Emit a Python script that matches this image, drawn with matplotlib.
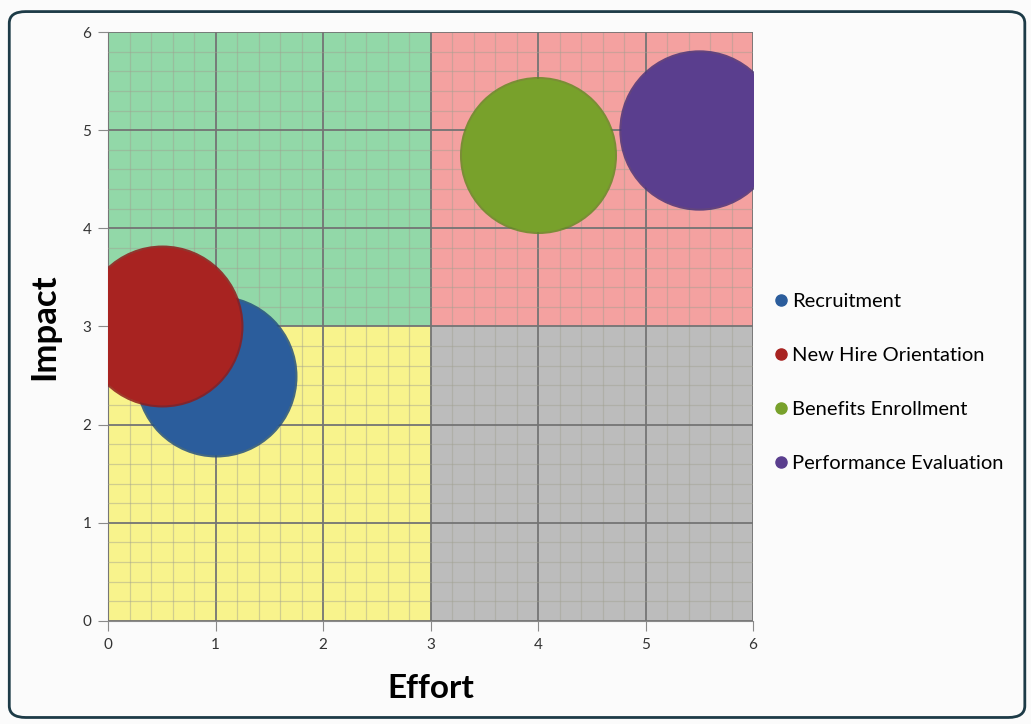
import matplotlib.pyplot as plt
from matplotlib.patches import Rectangle, FancyBboxPatch
from matplotlib.lines import Line2D
import numpy as np

plt.rcParams['font.family'] = ['Lato', 'DejaVu Sans']

# tasks: effort, impact, bubble size
tareas = ["Recruitment", "New Hire Orientation", "Benefits Enrollment", "Performance Evaluation"]
esfuerzo = [1.0, 0.5, 4.0, 5.5]
impacto = [2.5, 3.0, 4.75, 5.0]
tamano = [10.0, 10.0, 9.4, 9.8]
colores = ["#2b5d9c", "#a82321", "#78a12b", "#5a3e8e"]
bordes = ["#24507f", "#8f1c1b", "#668a24", "#4c3478"]

# quadrants: (x0, x1, y0, y1, colour)
cuadrantes = [
    (0, 3, 3, 6, "#92d8a8"),
    (3, 6, 3, 6, "#f4a1a0"),
    (0, 3, 0, 3, "#f8f38c"),
    (3, 6, 0, 3, "#bcbcbc"),
]

fig = plt.figure(figsize=(10.31, 7.24), dpi=100)
fig.patch.set_facecolor("#fbfbfb")

marco = FancyBboxPatch((0.009, 0.009), 0.985, 0.975, boxstyle="round,pad=0,rounding_size=0.016",
                       transform=fig.transFigure, facecolor="none", edgecolor="#1d3b47", linewidth=2)
fig.patches.append(marco)

ax = fig.add_axes([0.1048, 0.1423, 0.6256, 0.8135])
ax.set_xlim(0, 6)
ax.set_ylim(0, 6)

for x0, x1, y0, y1, c in cuadrantes:
    ax.add_patch(Rectangle((x0, y0), x1 - x0, y1 - y0, facecolor=c, edgecolor="none", zorder=0))

ax.set_xticks(range(7))
ax.set_yticks(range(7))
ax.set_xticks(np.arange(0, 6.01, 0.2), minor=True)
ax.set_yticks(np.arange(0, 6.01, 0.2), minor=True)
ax.grid(which="minor", color="#a0a090", linewidth=0.9, alpha=0.45, zorder=1)
ax.grid(which="major", color="#747474", linewidth=1.3, zorder=1)
ax.set_axisbelow(False)
ax.tick_params(which="minor", length=0)
ax.tick_params(which="major", length=7, color="#8a8a8a", labelsize=11, labelcolor="#333333", pad=5)

for s in ["top", "right"]:
    ax.spines[s].set_visible(False)
ax.spines["left"].set_color("#8a8a8a")
ax.spines["bottom"].set_color("#8a8a8a")

escala = 13600 / 10.0
for i in range(len(tareas)):
    ax.scatter(esfuerzo[i], impacto[i], s=tamano[i] * escala, color=bordes[i], alpha=0.85,
               zorder=3 + i * 2, linewidths=0)
    ax.scatter(esfuerzo[i], impacto[i], s=tamano[i] * escala * 0.95, color=colores[i],
               zorder=4 + i * 2, linewidths=0)

ax.set_xlabel("Effort", fontsize=24, fontweight="bold", labelpad=16)
ax.set_ylabel("Impact", fontsize=25, fontweight="bold", labelpad=16)

handles = [Line2D([], [], marker="o", linestyle="none", markersize=8, color=c) for c in colores]
fig.legend(handles, tareas, loc="upper left", bbox_to_anchor=(0.73, 0.62), frameon=False,
           fontsize=14.5, labelspacing=1.83, handletextpad=0.05, handlelength=1.0)

fig.savefig("out.png", dpi=100, facecolor=fig.get_facecolor())
